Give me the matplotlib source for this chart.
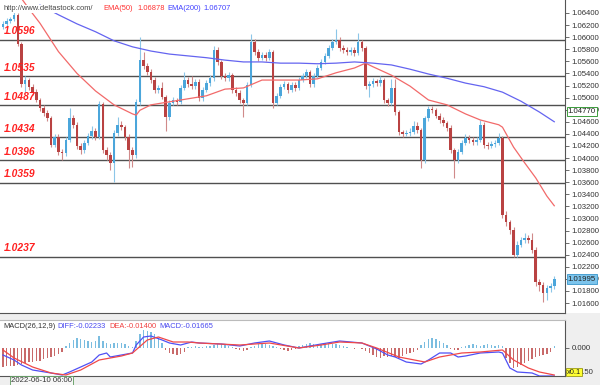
import numpy as np
import matplotlib
matplotlib.use('Agg')
import matplotlib.pyplot as plt
from matplotlib.patches import Rectangle

# ── price data (EURUSD, 4h candles) ─────────────────────────────────────
first_open = 1.0617
closes = [
    1.0622, 1.0627, 1.0630, 1.0637, 1.0589, 1.0522, 1.0529, 1.0518, 1.0509, 1.0496,
    1.0483, 1.0474, 1.0466, 1.0422, 1.0435, 1.0410, 1.0408, 1.0430, 1.0466, 1.0455,
    1.0420, 1.0413, 1.0425, 1.0436, 1.0445, 1.0435, 1.0489, 1.0413, 1.0405, 1.0392,
    1.0441, 1.0455, 1.0451, 1.0435, 1.0413, 1.0405, 1.0493, 1.0562, 1.0552, 1.0542,
    1.0529, 1.0513, 1.0516, 1.0501, 1.0468, 1.0491, 1.0496, 1.0493, 1.0516, 1.0529,
    1.0522, 1.0519, 1.0526, 1.0499, 1.0513, 1.0524, 1.0532, 1.0579, 1.0559, 1.0536,
    1.0532, 1.0537, 1.0513, 1.0508, 1.0496, 1.0491, 1.0521, 1.0592, 1.0575, 1.0566,
    1.0570, 1.0566, 1.0575, 1.0491, 1.0503, 1.0518, 1.0522, 1.0513, 1.0521, 1.0516,
    1.0529, 1.0536, 1.0542, 1.0522, 1.0536, 1.0549, 1.0559, 1.0569, 1.0582, 1.0592,
    1.0595, 1.0582, 1.0579, 1.0575, 1.0579, 1.0574, 1.0592, 1.0582, 1.0519, 1.0522,
    1.0527, 1.0524, 1.0529, 1.0496, 1.0491, 1.0516, 1.0476, 1.0443, 1.0440, 1.0441,
    1.0443, 1.0453, 1.0446, 1.0397, 1.0466, 1.0481, 1.0479, 1.0470, 1.0463, 1.0458,
    1.0450, 1.0413, 1.0397, 1.0410, 1.0425, 1.0433, 1.0430, 1.0426, 1.0430, 1.0455,
    1.0422, 1.0420, 1.0423, 1.0425, 1.0433, 1.0306, 1.0294, 1.0281, 1.0240, 1.0256,
    1.0264, 1.0268, 1.0264, 1.0248, 1.0195, 1.0190, 1.0177, 1.0185, 1.0188, 1.01995,
]
highs = [
    1.0627, 1.0631, 1.0634, 1.0642, 1.0640, 1.0592, 1.0536, 1.0533, 1.0523, 1.0514,
    1.0500, 1.0487, 1.0479, 1.0470, 1.0440, 1.0439, 1.0415, 1.0434, 1.0483, 1.0471,
    1.0459, 1.0425, 1.0429, 1.0441, 1.0453, 1.0450, 1.0494, 1.0493, 1.0418, 1.0410,
    1.0446, 1.0468, 1.0462, 1.0455, 1.0440, 1.0418, 1.0498, 1.0600, 1.0575, 1.0557,
    1.0547, 1.0534, 1.0521, 1.0525, 1.0505, 1.0496, 1.0501, 1.0500, 1.0521, 1.0542,
    1.0534, 1.0536, 1.0531, 1.0530, 1.0518, 1.0529, 1.0537, 1.0585, 1.0583, 1.0563,
    1.0541, 1.0542, 1.0541, 1.0518, 1.0512, 1.0500, 1.0526, 1.0605, 1.0597, 1.0580,
    1.0576, 1.0575, 1.0580, 1.0579, 1.0508, 1.0523, 1.0527, 1.0526, 1.0526, 1.0525,
    1.0534, 1.0541, 1.0548, 1.0546, 1.0541, 1.0554, 1.0564, 1.0574, 1.0587, 1.0597,
    1.0614, 1.0600, 1.0587, 1.0584, 1.0584, 1.0583, 1.0607, 1.0596, 1.0586, 1.0527,
    1.0532, 1.0531, 1.0536, 1.0533, 1.0500, 1.0531, 1.0530, 1.0480, 1.0447, 1.0446,
    1.0449, 1.0462, 1.0460, 1.0450, 1.0470, 1.0486, 1.0486, 1.0483, 1.0474, 1.0468,
    1.0462, 1.0454, 1.0417, 1.0415, 1.0430, 1.0440, 1.0438, 1.0434, 1.0435, 1.0463,
    1.0459, 1.0426, 1.0428, 1.0430, 1.0441, 1.0437, 1.0312, 1.0298, 1.0285, 1.0262,
    1.0270, 1.0276, 1.0273, 1.0276, 1.0252, 1.0200, 1.0194, 1.0190, 1.0193, 1.0205,
]
lows = [
    1.0614, 1.0619, 1.0624, 1.0627, 1.0586, 1.0518, 1.0510, 1.0513, 1.0505, 1.0492,
    1.0478, 1.0470, 1.0461, 1.0418, 1.0418, 1.0405, 1.0397, 1.0404, 1.0426, 1.0450,
    1.0415, 1.0406, 1.0409, 1.0421, 1.0432, 1.0430, 1.0431, 1.0408, 1.0397, 1.0380,
    1.0360, 1.0437, 1.0446, 1.0430, 1.0383, 1.0385, 1.0400, 1.0488, 1.0547, 1.0537,
    1.0524, 1.0508, 1.0508, 1.0497, 1.0445, 1.0463, 1.0487, 1.0488, 1.0489, 1.0512,
    1.0517, 1.0514, 1.0515, 1.0494, 1.0495, 1.0509, 1.0520, 1.0528, 1.0554, 1.0531,
    1.0527, 1.0528, 1.0508, 1.0503, 1.0491, 1.0468, 1.0487, 1.0517, 1.0570, 1.0561,
    1.0562, 1.0561, 1.0562, 1.0483, 1.0487, 1.0499, 1.0514, 1.0508, 1.0509, 1.0511,
    1.0512, 1.0525, 1.0532, 1.0517, 1.0518, 1.0532, 1.0545, 1.0555, 1.0565, 1.0578,
    1.0588, 1.0577, 1.0574, 1.0570, 1.0571, 1.0569, 1.0570, 1.0577, 1.0514, 1.0501,
    1.0518, 1.0519, 1.0520, 1.0491, 1.0486, 1.0487, 1.0471, 1.0438, 1.0435, 1.0436,
    1.0437, 1.0439, 1.0441, 1.0383, 1.0392, 1.0462, 1.0474, 1.0466, 1.0458, 1.0453,
    1.0445, 1.0408, 1.0367, 1.0392, 1.0406, 1.0421, 1.0425, 1.0421, 1.0422, 1.0426,
    1.0417, 1.0415, 1.0416, 1.0419, 1.0421, 1.0300, 1.0288, 1.0275, 1.0236, 1.0236,
    1.0252, 1.0260, 1.0259, 1.0243, 1.0188, 1.0180, 1.0162, 1.0165, 1.0179, 1.0183,
]

# moving averages, sampled at candle index
ema50_idx = [5, 7, 10, 15, 20, 25, 30, 35, 36, 37, 40, 45, 50, 55, 60, 65, 70, 75, 80,
             85, 90, 95, 98, 100, 105, 110, 115, 120, 125, 129, 134, 135, 138, 141, 144,
             147, 149]
ema50 = [1.0664, 1.0647, 1.0623, 1.0576, 1.0540, 1.0511, 1.0488, 1.0473, 1.0471, 1.0479,
         1.0488, 1.0493, 1.0498, 1.0503, 1.0514, 1.0516, 1.0529, 1.0529, 1.0529, 1.0531,
         1.0541, 1.0549, 1.0557, 1.0551, 1.0537, 1.0519, 1.0496, 1.0488, 1.0473, 1.0463,
         1.0455, 1.0451, 1.0418, 1.0392, 1.0367, 1.0337, 1.0321]
ema200_idx = [10, 15, 20, 25, 30, 35, 40, 45, 50, 55, 60, 65, 70, 75, 80, 85, 90, 95,
              100, 105, 110, 115, 120, 125, 130, 135, 140, 145, 149]
ema200 = [1.0653, 1.0637, 1.0622, 1.0609, 1.0594, 1.0584, 1.0577, 1.0572, 1.0569, 1.0566,
          1.0562, 1.0559, 1.0559, 1.0557, 1.0557, 1.0556, 1.0557, 1.0559, 1.0557, 1.0554,
          1.0547, 1.0539, 1.0532, 1.0524, 1.0518, 1.0509, 1.0494, 1.0476, 1.0460]

levels = [1.0596, 1.0535, 1.0487, 1.0434, 1.0396, 1.0359, 1.0237]
price_ticks = np.round(np.arange(1.016, 1.0641, 0.002), 3)

# MACD(26,12,9)
diff_idx = [0, 3, 5, 8, 13, 16, 18, 21, 24, 26, 28, 29, 32, 35, 36, 38, 40, 43, 45, 48,
            51, 53, 59, 64, 68, 72, 76, 80, 86, 91, 94, 97, 101, 104, 106, 109, 113, 115,
            118, 121, 123, 125, 129, 134, 135, 137, 139, 143, 145, 149]
diff = [-0.0056, -0.0096, -0.0136, -0.0176, -0.0200, -0.0216, -0.0192, -0.0152, -0.0112,
        -0.0056, -0.0040, -0.0072, -0.0056, -0.0040, 0.0024, 0.0088, 0.0096, 0.0064, 0.0040,
        0.0024, 0.0048, 0.0040, 0.0032, 0.0016, 0.0040, 0.0056, 0.0024, 0.0000, 0.0032,
        0.0056, 0.0048, 0.0040, -0.0008, -0.0056, -0.0072, -0.0112, -0.0128, -0.0096,
        -0.0040, -0.0040, -0.0072, -0.0064, -0.0040, -0.0032, -0.0040, -0.0160, -0.0192,
        -0.0200, -0.0224, -0.0224]
dea_idx = [0, 3, 8, 13, 17, 21, 26, 32, 35, 39, 42, 46, 50, 53, 64, 72, 80, 86, 91, 97,
           101, 107, 114, 118, 124, 129, 135, 138, 142, 145, 149]
dea = [-0.0016, -0.0080, -0.0152, -0.0200, -0.0216, -0.0176, -0.0096, -0.0064, -0.0040,
       0.0064, 0.0088, 0.0048, 0.0048, 0.0040, 0.0024, 0.0040, 0.0000, 0.0024, 0.0048,
       0.0040, 0.0000, -0.0072, -0.0112, -0.0072, -0.0040, -0.0032, -0.0016, -0.0096,
       -0.0160, -0.0192, -0.0216]
hist = [
    -0.0150, -0.0146, -0.0142, -0.0140, -0.0136, -0.0130,
    -0.0120, -0.0114, -0.0110, -0.0106, -0.0100,
    -0.0090, -0.0080, -0.0072, -0.0060, -0.0044, -0.0030,
    0.0016, 0.0040, 0.0064, 0.0080, 0.0072, 0.0064, 0.0056, 0.0048, 0.0056, 0.0096,
    0.0060, 0.0040, 0.0032, 0.0040, 0.0044, 0.0040, 0.0030, 0.0020, 0.0012,
    0.0060, 0.0110, 0.0144, 0.0140, 0.0128, 0.0112, 0.0080, 0.0040,
    -0.0016, -0.0036, -0.0048, -0.0052, -0.0044, -0.0028,
    0.0008, 0.0012, 0.0016, 0.0012,
    0.0008, 0.0016, 0.0020, 0.0028, 0.0036, 0.0032, 0.0024, 0.0016, 0.0008, -0.0008,
    -0.0016, -0.0024, -0.0016, 0.0008, 0.0020, 0.0032, 0.0040, 0.0036, 0.0028, 0.0016,
    0.0008, -0.0008, -0.0016, -0.0020, -0.0016, -0.0008,
    0.0016, 0.0024, 0.0032, 0.0040, 0.0036, 0.0032, 0.0036, 0.0040, 0.0044, 0.0036,
    0.0032, 0.0024, 0.0016,
    0.0008, 0.0004, -0.0004, 0.0004, -0.0008,
    -0.0024, -0.0040, -0.0056, -0.0072, -0.0080, -0.0064, -0.0072, -0.0064, -0.0072,
    -0.0080, -0.0064, -0.0048, -0.0040, -0.0032, -0.0016,
    0.0024, 0.0048, 0.0072, 0.0080, 0.0072, 0.0056, 0.0040, 0.0024,
    -0.0008, -0.0016, -0.0012,
    0.0008, 0.0016, 0.0024, 0.0032, 0.0024, 0.0016, 0.0024, 0.0032, 0.0024, 0.0016,
    0.0024, 0.0016,
    -0.0080, -0.0120, -0.0160, -0.0152, -0.0136, -0.0120, -0.0104, -0.0088, -0.0072,
    -0.0064, -0.0056, -0.0048, -0.0032,
    0.0016,
]

BULL = "#4ba6db"
BEAR = "#b94242"
FONT = "Liberation Sans"

opens = np.array([first_open] + closes[:-1])
closes = np.array(closes)
idx = np.arange(len(closes))
up = closes >= opens

W, H = 600, 385
plt.rcParams['font.family'] = [FONT, 'DejaVu Sans']
fig = plt.figure(figsize=(6.0, 3.85), dpi=100, facecolor="#efefef")

# white backdrop behind the price panel and its axis strip
fig.patches.append(Rectangle((0, 1 - 313 / H), 1, 313 / H, transform=fig.transFigure,
                             facecolor="white", edgecolor="none", zorder=-5))

ax = fig.add_axes([0, 1 - 313 / H, 565 / W, 313 / H])
axm = fig.add_axes([0, 1 - 376 / H, 565 / W, 56 / H])
for a in (ax, axm):
    a.set_facecolor("white")
    a.set_xlim(-0.81, 151.9)
    a.set_xticks([])
    for s in ("left", "top"):
        a.spines[s].set_visible(False)
    a.spines["right"].set_color("#555555")
    a.spines["bottom"].set_color("#555555")
    a.yaxis.tick_right()
    a.tick_params(axis="y", length=3, width=0.6, color="#555555", labelsize=5.6,
                  labelcolor="#333333", pad=1.5)
axm.spines["top"].set_visible(True)
axm.spines["top"].set_color("#bbbbbb")

# ── main panel ──────────────────────────────────────────────────────────
ax.set_ylim(1.01435, 1.06615)
ax.set_yticks(price_ticks)
ax.set_yticklabels([f"{v:.5f}" for v in price_ticks])

for lvl in levels:
    ax.axhline(lvl, color="#505050", lw=1.0, zorder=1)
    ax.annotate(f"{lvl:.4f}", xy=(0, lvl), xycoords=("axes fraction", "data"),
                xytext=(3, 2.5), textcoords="offset points", color="#ff2020",
                fontsize=7.4, fontweight="bold", fontstyle="italic", va="bottom", zorder=6)

wick_col = np.where(up, "#8cc6e8", "#d08a8a")
ax.vlines(idx, lows, highs, colors=wick_col, lw=0.8, zorder=2)
body_bottom = np.minimum(opens, closes)
body_h = np.maximum(np.abs(closes - opens), 0.00008)
ax.bar(idx, body_h, bottom=body_bottom, width=0.7,
       color=np.where(up, BULL, BEAR), edgecolor="none", zorder=3)

ax.plot(ema50_idx, ema50, color="#f26a6a", lw=0.9, zorder=4)
ax.plot(ema200_idx, ema200, color="#6464f0", lw=0.9, zorder=4)

# price flags on the right axis
ax.annotate("1.04770", xy=(1.0, 1.04770), xycoords=("axes fraction", "data"),
            xytext=(2, 0), textcoords="offset points", va="center", fontsize=5.6,
            color="#222222", annotation_clip=False, zorder=10,
            bbox=dict(boxstyle="square,pad=0.15", fc="white", ec="#3c9d3c", lw=0.7))
ax.annotate(f"{closes[-1]:.5f}", xy=(1.0, closes[-1]), xycoords=("axes fraction", "data"),
            xytext=(2, 0), textcoords="offset points", va="center", fontsize=5.6,
            color="#222222", annotation_clip=False, zorder=10,
            bbox=dict(boxstyle="square,pad=0.15", fc="#7cc4ec", ec="#4a9fd0", lw=0.7))

# header
hy = 1 - 9 / H
fig.text(3 / W, hy, "http://www.deltastock.com/", fontsize=5.4, color="#444444",
         va="center", bbox=dict(fc="white", ec="none", pad=0.5), zorder=20)
fig.text(103 / W, hy, "EMA(50)", fontsize=5.4, color="#ff3030", va="center", zorder=20)
fig.text(137 / W, hy, "1.06878", fontsize=5.4, color="#ff3030", va="center", zorder=20)
fig.text(167 / W, hy, "EMA(200)", fontsize=5.4, color="#4040ff", va="center", zorder=20)
fig.text(203 / W, hy, "1.06707", fontsize=5.4, color="#4040ff", va="center", zorder=20)

# ── MACD panel ──────────────────────────────────────────────────────────
axm.set_ylim(-0.0224, 0.0224)
axm.set_yticks([0.0, -0.0192])
axm.set_yticklabels(["0.000", "-0.150"])
hist = np.array(hist)
axm.bar(idx, hist, width=0.38, color=np.where(hist >= 0, "#7bbde0", "#c86a6a"),
        edgecolor="none", zorder=2)
axm.plot(diff_idx, diff, color="#5050f5", lw=0.9, zorder=3)
axm.plot(dea_idx, dea, color="#f04848", lw=0.9, zorder=3)

ty = 1 - 6 / 56
axm.text(3 / 565, ty, "MACD(26,12,9)", transform=axm.transAxes, fontsize=5.4,
         color="#333333", va="center")
axm.text(57 / 565, ty, "DIFF:-0.02233", transform=axm.transAxes, fontsize=5.4,
         color="#4848f0", va="center")
axm.text(109 / 565, ty, "DEA:-0.01400", transform=axm.transAxes, fontsize=5.4,
         color="#f04040", va="center")
axm.text(159 / 565, ty, "MACD:-0.01665", transform=axm.transAxes, fontsize=5.4,
         color="#4848f0", va="center")

fig.text(567 / W, 1 - 372 / H, "x0.1", fontsize=5.4, color="#222222", va="center",
         bbox=dict(fc="#ffff33", ec="#888800", lw=0.5, pad=0.6), zorder=20)

# time label
fig.text(11 / W, 1 - 381 / H, "2022-06-10 06:00", fontsize=5.6, color="#333333",
         va="center", bbox=dict(fc="#f7f7f7", ec="#5a9a5a", lw=0.6, pad=0.8))

fig.savefig("out.png", dpi=100, facecolor=fig.get_facecolor())
